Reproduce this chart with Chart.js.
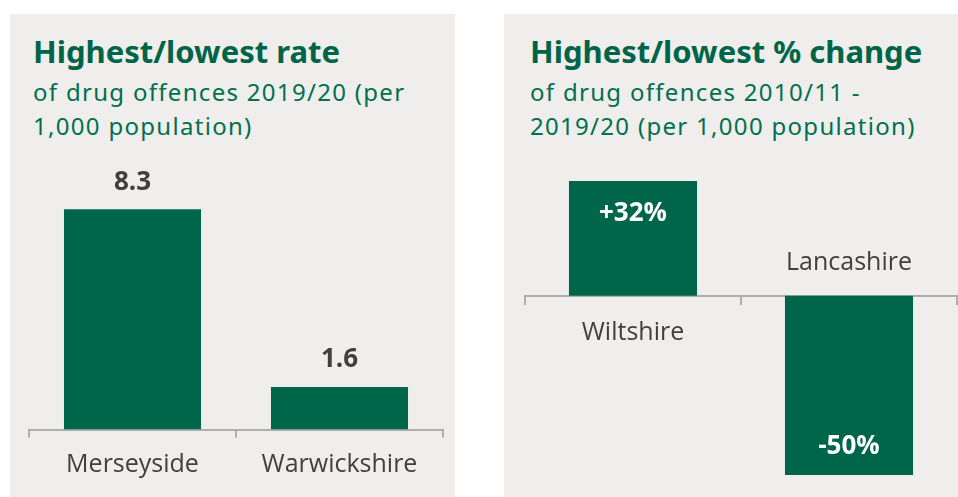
<!DOCTYPE html>
<html>
<head>
<meta charset="utf-8">
<script src="https://cdn.jsdelivr.net/npm/chart.js@4.4.1/dist/chart.umd.min.js"></script>
<style>
  html, body { margin: 0; padding: 0; background: #ffffff; width: 958px; height: 497px; overflow: hidden; }
  .panel { position: absolute; top: 14px; height: 483px; background: #EFEEEC; }
  #p1 { left: 10px; width: 445px; }
  #p2 { left: 504px; width: 454px; }
  .title { position: absolute; top: 17px; font: 700 31px "Noto Sans", sans-serif; color: #006548; line-height: 40px; white-space: nowrap; }
  .sub { position: absolute; top: 61px; font: 400 24px "Noto Sans", sans-serif; letter-spacing: 1.3px; color: #00704F; line-height: 34px; white-space: nowrap; }
  #p1 .title, #p1 .sub { left: 23px; }
  #p2 .title, #p2 .sub { left: 26px; }
  canvas { position: absolute; left: 0; top: 0; }
</style>
</head>
<body>
<div class="panel" id="p1">
  <div class="title">Highest/lowest rate</div>
  <div class="sub">of drug offences 2019/20 (per<br>1,000 population)</div>
  <canvas id="rateChart" width="445" height="483"></canvas>
</div>
<div class="panel" id="p2">
  <div class="title">Highest/lowest % change</div>
  <div class="sub">of drug offences 2010/11 -<br>2019/20 (per 1,000 population)</div>
  <canvas id="changeChart" width="454" height="483"></canvas>
</div>
<script>
// Drug offences per 1,000 population, 2019/20
const rateCategories = ['Merseyside', 'Warwickshire'];
const rateValues = [8.3, 1.6];

// % change in drug offences per 1,000 population, 2010/11 - 2019/20
const changeCategories = ['Wiltshire', 'Lancashire'];
const changeValues = [32, -50];

const GREEN = '#00664A';
const AXIS = '#AEAEAE';
const LABEL = '#404040';
const FONT = '"Open Sans", sans-serif';

// Value labels above the rate bars
const rateLabels = {
  id: 'rateLabels',
  afterDatasetsDraw(chart) {
    const ctx = chart.ctx;
    const values = chart.data.datasets[0].data;
    ctx.save();
    ctx.font = '700 26px ' + FONT;
    ctx.fillStyle = LABEL;
    ctx.textAlign = 'center';
    ctx.textBaseline = 'middle';
    chart.getDatasetMeta(0).data.forEach((bar, i) => {
      ctx.fillText(values[i].toFixed(1), bar.x, bar.y - 27);
    });
    ctx.restore();
  }
};

// Percent labels inside the bars, category names on the opposite side of the zero line
const changeLabels = {
  id: 'changeLabels',
  afterDatasetsDraw(chart) {
    const ctx = chart.ctx;
    const values = chart.data.datasets[0].data;
    const names = chart.data.labels;
    const zero = chart.scales.y.getPixelForValue(0);
    ctx.save();
    ctx.textAlign = 'center';
    ctx.textBaseline = 'middle';
    chart.getDatasetMeta(0).data.forEach((bar, i) => {
      const v = values[i];
      ctx.font = '700 26px ' + FONT;
      ctx.fillStyle = '#ffffff';
      const text = (v > 0 ? '+' : '') + v + '%';
      ctx.fillText(text, bar.x, v >= 0 ? bar.y + 33 : bar.y - 28);
      ctx.font = '400 25px ' + FONT;
      ctx.fillStyle = LABEL;
      ctx.fillText(names[i], bar.x, v >= 0 ? zero + 37 : zero - 33);
    });
    ctx.restore();
  }
};

const common = {
  responsive: false,
  animation: false,
  events: [],
  plugins: { legend: { display: false }, tooltip: { enabled: false } }
};

new Chart(document.getElementById('rateChart'), {
  type: 'bar',
  data: {
    labels: rateCategories,
    datasets: [{ data: rateValues, backgroundColor: GREEN, barPercentage: 0.662, categoryPercentage: 1 }]
  },
  options: Object.assign({}, common, {
    layout: { padding: { left: 19, right: 12, top: 150, bottom: 0 } },
    scales: {
      x: {
        grid: { offset: true, drawOnChartArea: false, drawTicks: true, tickLength: 8, color: AXIS, lineWidth: 2 },
        border: { color: AXIS, width: 2 },
        ticks: { color: LABEL, font: { family: FONT, size: 25 }, padding: 12, maxRotation: 0 },
        afterFit(scale) { scale.height = 67.5; }
      },
      y: { display: false, min: 0, max: 10 }
    }
  }),
  plugins: [rateLabels]
});

new Chart(document.getElementById('changeChart'), {
  type: 'bar',
  data: {
    labels: changeCategories,
    datasets: [{ data: changeValues, backgroundColor: GREEN, barPercentage: 0.593, categoryPercentage: 1 }]
  },
  options: Object.assign({}, common, {
    layout: { padding: { left: 21, right: 1, top: 138.3, bottom: 22 } },
    scales: {
      x: {
        position: { y: 0 },
        grid: { offset: true, drawOnChartArea: false, drawTicks: true, tickLength: 8, color: AXIS, lineWidth: 2 },
        border: { color: AXIS, width: 2 },
        ticks: { display: false },
        afterFit(scale) { scale.height = 0; }
      },
      y: { display: false, min: -50, max: 40 }
    }
  }),
  plugins: [changeLabels]
});
</script>
</body>
</html>
